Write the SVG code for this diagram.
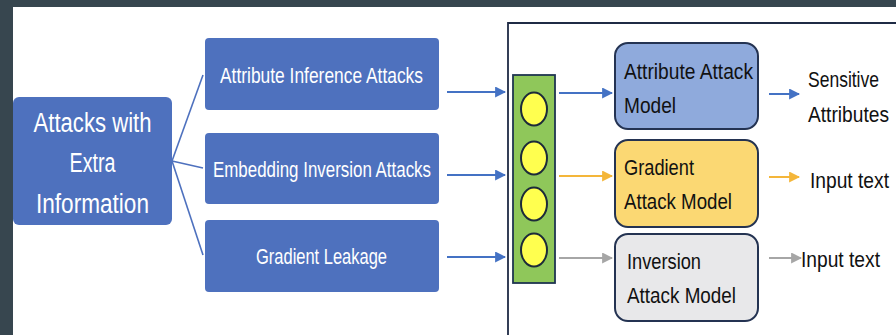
<svg xmlns="http://www.w3.org/2000/svg" width="896" height="335" viewBox="0 0 896 335">
<defs>
<style>
.bg{fill:#37464f}
.node{fill:#4e71be}
.wt{fill:#ffffff;font-family:"Liberation Sans",Arial,sans-serif}
.bt{fill:#111111;font-family:"Liberation Sans",Arial,sans-serif;font-size:22px}
.ln{stroke:#4e71be;stroke-width:1.6;fill:none}
.ab{stroke:#4472c4;stroke-width:2;fill:none;marker-end:url(#hb)}
.ao{stroke:#f4b63a;stroke-width:2;fill:none;marker-end:url(#ho)}
.ag{stroke:#a6a6a6;stroke-width:2;fill:none;marker-end:url(#hg)}
.model{stroke:#243352;stroke-width:2}
.dot{fill:#ffff4f;stroke:#1c2a3a;stroke-width:2}
</style>
<marker id="hb" viewBox="0 0 10 10" refX="9" refY="5" markerWidth="5.5" markerHeight="5.5" markerUnits="strokeWidth" orient="auto"><path d="M0,0 L10,5 L0,10 z" fill="#4472c4"/></marker>
<marker id="ho" viewBox="0 0 10 10" refX="9" refY="5" markerWidth="5.5" markerHeight="5.5" markerUnits="strokeWidth" orient="auto"><path d="M0,0 L10,5 L0,10 z" fill="#f4b63a"/></marker>
<marker id="hg" viewBox="0 0 10 10" refX="9" refY="5" markerWidth="5.5" markerHeight="5.5" markerUnits="strokeWidth" orient="auto"><path d="M0,0 L10,5 L0,10 z" fill="#a6a6a6"/></marker>
</defs>
<rect class="bg" x="0" y="0" width="896" height="335"/>
<rect x="13" y="7" width="883" height="328" fill="#ffffff"/>

<g id="connectors">
<path class="ln" d="M172,161 L203,75"/>
<path class="ln" d="M172,161 L203,168"/>
<path class="ln" d="M172,161 L203,255"/>
<path class="ab" d="M447,92 L505,92"/>
<path class="ab" d="M447,175 L505,175"/>
<path class="ab" d="M447,257 L505,257"/>
<path class="ab" d="M559,93 L612,93"/>
<path class="ao" d="M559,176 L612,176"/>
<path class="ag" d="M559,258 L612,258"/>
<path class="ab" d="M769,94 L799,94"/>
<path class="ao" d="M769,177 L799,177"/>
<path class="ag" d="M769,258 L801,258"/>
</g>

<g id="extra-info">
<rect class="node" x="13" y="97" width="159" height="128" rx="6"/>
<text class="wt" font-size="27" text-anchor="middle" x="92.5" y="132" textLength="118" lengthAdjust="spacingAndGlyphs">Attacks with</text>
<text class="wt" font-size="27" text-anchor="middle" x="92.5" y="172" textLength="46" lengthAdjust="spacingAndGlyphs">Extra</text>
<text class="wt" font-size="27" text-anchor="middle" x="92.5" y="213" textLength="113" lengthAdjust="spacingAndGlyphs">Information</text>
</g>

<g id="attribute-inference">
<rect class="node" x="205" y="38" width="234" height="72" rx="4"/>
<text class="wt" font-size="22" x="220" y="83" textLength="203" lengthAdjust="spacingAndGlyphs">Attribute Inference Attacks</text>
</g>
<g id="embedding-inversion">
<rect class="node" x="205" y="133" width="234" height="71" rx="4"/>
<text class="wt" font-size="22" x="213" y="177" textLength="218" lengthAdjust="spacingAndGlyphs">Embedding Inversion Attacks</text>
</g>
<g id="gradient-leakage">
<rect class="node" x="205" y="220" width="234" height="72" rx="4"/>
<text class="wt" font-size="22" x="256" y="264" textLength="131" lengthAdjust="spacingAndGlyphs">Gradient Leakage</text>
</g>

<g id="panel">
<path d="M896,23 L508,23 L508,335" fill="none" stroke="#1f2b45" stroke-width="1.8"/>
</g>

<g id="embedding-layer">
<rect x="513" y="75" width="42" height="208" fill="#8fc75a" stroke="#1f3550" stroke-width="1.8"/>
<ellipse class="dot" cx="534" cy="109" rx="13" ry="16.5"/>
<ellipse class="dot" cx="534" cy="158" rx="13" ry="16.5"/>
<ellipse class="dot" cx="534" cy="204" rx="13" ry="16.5"/>
<ellipse class="dot" cx="534" cy="250" rx="13" ry="16.5"/>
</g>

<g id="attribute-attack-model">
<rect class="model" x="615" y="43" width="143" height="86" rx="13" fill="#8faadc"/>
<text class="bt" x="624" y="79" textLength="129" lengthAdjust="spacingAndGlyphs">Attribute Attack</text>
<text class="bt" x="624" y="113" textLength="52" lengthAdjust="spacingAndGlyphs">Model</text>
</g>
<g id="gradient-attack-model">
<rect class="model" x="615" y="140" width="143" height="87" rx="13" fill="#fbd873"/>
<text class="bt" x="624" y="175" textLength="70" lengthAdjust="spacingAndGlyphs">Gradient</text>
<text class="bt" x="624" y="209" textLength="108" lengthAdjust="spacingAndGlyphs">Attack Model</text>
</g>
<g id="inversion-attack-model">
<rect class="model" x="615" y="234" width="143" height="87" rx="13" fill="#e8e8ea"/>
<text class="bt" x="627" y="269" textLength="74" lengthAdjust="spacingAndGlyphs">Inversion</text>
<text class="bt" x="627" y="303" textLength="109" lengthAdjust="spacingAndGlyphs">Attack Model</text>
</g>

<g id="out-sensitive">
<text class="bt" x="808" y="87" textLength="71" lengthAdjust="spacingAndGlyphs">Sensitive</text>
<text class="bt" x="808" y="122" textLength="81" lengthAdjust="spacingAndGlyphs">Attributes</text>
</g>
<g id="out-input-1">
<text class="bt" x="810" y="188" textLength="79" lengthAdjust="spacingAndGlyphs">Input text</text>
</g>
<g id="out-input-2">
<text class="bt" x="801" y="267" textLength="79" lengthAdjust="spacingAndGlyphs">Input text</text>
</g>
</svg>
